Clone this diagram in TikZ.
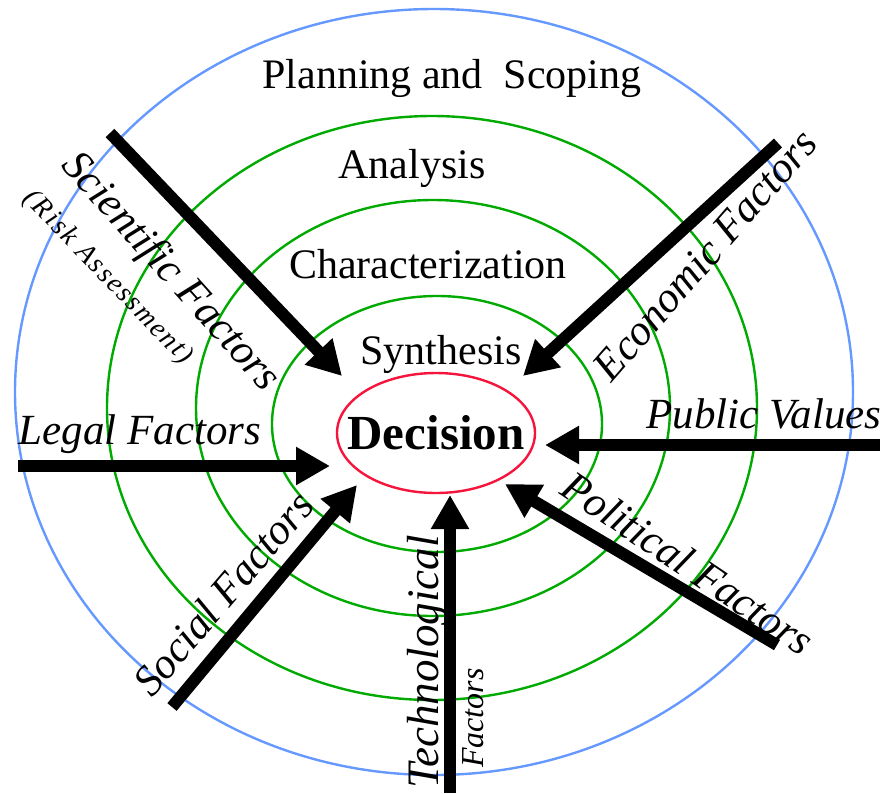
\documentclass[tikz,border=0pt]{standalone}
\usepackage{fontspec}
\setmainfont{Liberation Serif}
\usepackage{tikz}
\usetikzlibrary{arrows.meta}
\usetikzlibrary{shapes.geometric}
\usepackage{xcolor}

\definecolor{ringblue}{RGB}{102,153,255}
\definecolor{ringgreen}{RGB}{0,170,0}
\definecolor{ringred}{RGB}{245,20,60}

\tikzset{
  ring/.style={ringgreen, line width=2.4pt},
  factor/.style={black, line width=12pt, -{Triangle[length=34pt,width=36pt]}},
  stage/.style={font=\fontsize{42}{44}\selectfont},
  flabel/.style={font=\fontsize{43}{45}\selectfont\itshape},
}

\begin{document}
\begin{tikzpicture}[x=1pt, y=-1pt]
	\useasboundingbox (0,0) rectangle (891,793);
	% rings
	\draw[ringblue, line width=2.4pt] (434,392) ellipse [x radius=419pt, y radius=383pt];
	\draw[ring] (432,408) ellipse [x radius=325pt, y radius=292pt];
	\draw[ring] (433,408) ellipse [x radius=237pt, y radius=208pt];
	\draw[ring] (437,424) ellipse [x radius=165pt, y radius=128pt];
	\node[draw=ringred, line width=2.4pt, ellipse, minimum width=198pt, minimum height=120pt,
	      inner xsep=-24pt, inner ysep=0pt,
	      font=\fontsize{49}{50}\selectfont\bfseries] (dec) at (436,433) {Decision};

	% stages
	\node[stage] (plan)  at (452,78)  {Planning and\ \ Scoping};
	\node[stage] (anal)  at (412,168) {Analysis};
	\node[stage] (char)  at (428,264) {Characterization};
	\node[stage] (synth) at (441,354) {Synthesis};

	% factor arrows
	\coordinate (sciTail) at (110,133);   \coordinate (sciTip) at (342,376);
	\coordinate (econTail) at (778,143);  \coordinate (econTip) at (523,376);
	\coordinate (legalTail) at (18,466);  \coordinate (legalTip) at (330,466);
	\coordinate (pubTail) at (880,445);   \coordinate (pubTip) at (545,445);
	\coordinate (socTail) at (172,707);   \coordinate (socTip) at (357,485);
	\coordinate (techTail) at (450,793);  \coordinate (techTip) at (450,495);
	\coordinate (polTail) at (777,645);   \coordinate (polTip) at (505,484);
	\draw[factor] (sciTail) -- (sciTip);
	\draw[factor] (econTail) -- (econTip);
	\draw[factor] (legalTail) -- (legalTip);
	\draw[factor] (pubTail) -- (pubTip);
	\draw[factor] (socTail) -- (socTip);
	\draw[factor] (techTail) -- (techTip);
	\draw[factor] (polTail) -- (polTip);

	% factor labels
	\node[flabel, rotate=-48] (sciLbl) at (170,273) {Scientific Factors};
	\node[flabel, rotate=-46, font=\fontsize{28}{30}\selectfont\itshape\addfontfeatures{LetterSpace=7}] (riskLbl) at (108,278) {(Risk Assessment)};
	\node[flabel, rotate=49] (econLbl) at (705,255) {Economic Factors};
	\node[flabel] (legalLbl) at (140,434) {Legal Factors};
	\node[flabel] (pubLbl) at (764,414) {Public Values};
	\node[flabel, rotate=49.5] (socLbl) at (223,593) {Social Factors};
	\node[flabel, rotate=-34] (polLbl) at (688,563) {Political Factors};
	\node[flabel, rotate=90, font=\fontsize{45}{47}\selectfont\itshape] (techLbl) at (428,662) {Technological};
	\node[flabel, rotate=90, font=\fontsize{32}{34}\selectfont\itshape] (techLbl2) at (473,718) {Factors};
\end{tikzpicture}
\end{document}
